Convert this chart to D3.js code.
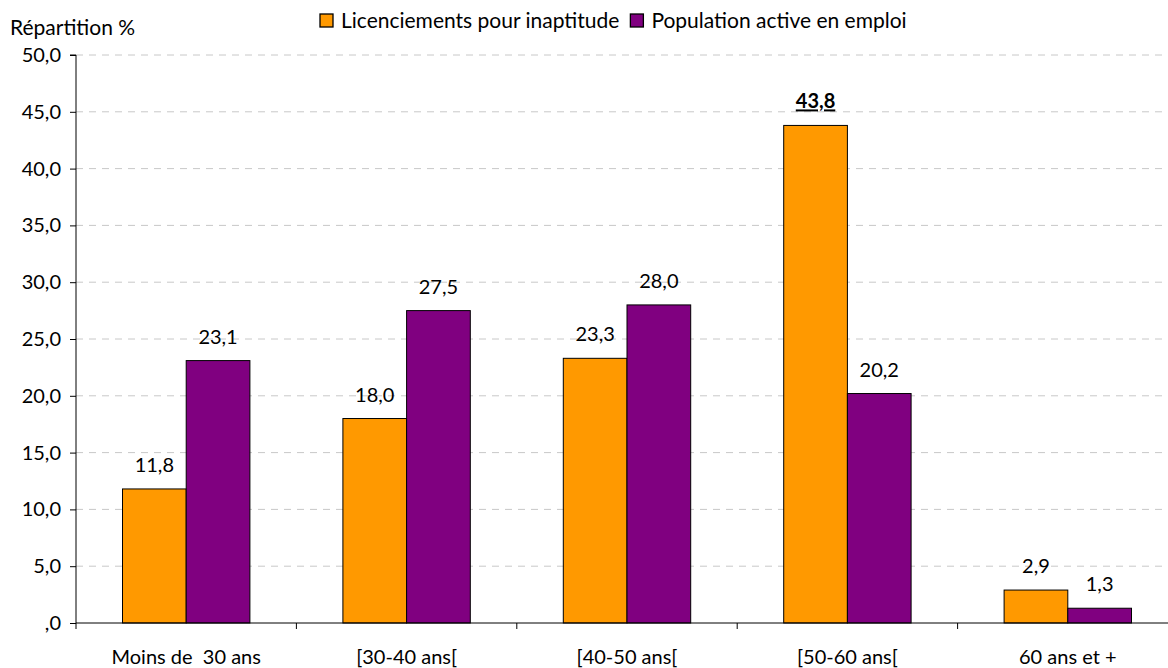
<!DOCTYPE html>
<html>
<head>
<meta charset="utf-8">
<script src="https://cdn.jsdelivr.net/npm/d3@7"></script>
<style>
  html, body { margin: 0; padding: 0; background: #fff; }
  svg text { font-family: Lato, "Open Sans", sans-serif; fill: #000; }
</style>
</head>
<body>
<svg id="chart" width="1168" height="668"></svg>
<script>
// Age groups and the two distributions (%)
const categories = ["Moins de  30 ans", "[30-40 ans[", "[40-50 ans[", "[50-60 ans[", "60 ans et +"];
const seriesNames = ["Licenciements pour inaptitude", "Population active en emploi"];
const licenciements = [11.8, 18.0, 23.3, 43.8, 2.9];
const population = [23.1, 27.5, 28.0, 20.2, 1.3];
const seriesColors = ["#FF9900", "#800080"];
const yTicks = [0, 5, 10, 15, 20, 25, 30, 35, 40, 45, 50];

const svg = d3.select("#chart");
const margin = { left: 76, top: 55 };
const plotW = 1102; // plot area extends beyond the visible frame on the right
const y0 = 623;
const fontMain = 20;
const fontFamily = "Lato, 'Open Sans', sans-serif";

const fmt = v => {
  const s = v.toFixed(1).replace(".", ",");
  return s.startsWith("0,") ? s.slice(1) : s;
};

const x = d3.scaleBand().domain(categories).range([margin.left, margin.left + plotW]).paddingInner(0).paddingOuter(0);
const y = d3.scaleLinear().domain([0, 50]).range([y0, margin.top]);
const xs = d3.scaleBand().domain([0, 1]).range([0, x.bandwidth()]).paddingInner(0).paddingOuter(0.73);

// Gridlines
svg.append("g").selectAll("line").data(yTicks.filter(d => d > 0)).join("line")
  .attr("x1", margin.left).attr("x2", 1168)
  .attr("y1", d => y(d)).attr("y2", d => y(d))
  .attr("stroke", "#c8c8c8").attr("stroke-width", 1).attr("stroke-dasharray", "7,6");

// Bars
const data = categories.map((c, i) => ({ c, vals: [licenciements[i], population[i]] }));
const groups = svg.append("g").selectAll("g").data(data).join("g")
  .attr("transform", d => `translate(${x(d.c)},0)`);
groups.selectAll("rect").data(d => d.vals.map((v, k) => ({ v, k }))).join("rect")
  .attr("x", d => xs(d.k)).attr("width", xs.bandwidth())
  .attr("y", d => y(d.v)).attr("height", d => y0 - y(d.v))
  .attr("fill", d => seriesColors[d.k]).attr("stroke", "#000").attr("stroke-width", 1);

// Value labels
const maxV = d3.max(licenciements.concat(population));
groups.selectAll("text").data(d => d.vals.map((v, k) => ({ v, k }))).join("text")
  .attr("x", d => xs(d.k) + xs.bandwidth() / 2)
  .attr("y", d => y(d.v) - 17)
  .attr("text-anchor", "middle")
  .attr("font-size", fontMain)
  .attr("font-weight", d => d.v === maxV ? "bold" : null)
  .attr("text-decoration", d => d.v === maxV ? "underline" : null)
  .text(d => fmt(d.v));

// Y axis
const yAxis = d3.axisLeft(y).tickValues(yTicks).tickFormat(fmt).tickSize(6).tickPadding(9);
const gy = svg.append("g").attr("transform", `translate(${margin.left},0)`).call(yAxis);
gy.select(".domain").attr("stroke", "#000").attr("d", `M-6,${y(50)}H0V${y0}`);
gy.selectAll(".tick line").attr("stroke", "#000");
gy.selectAll(".tick text").attr("font-size", fontMain).attr("font-family", fontFamily).attr("fill", "#000");

// X axis
const xAxis = d3.axisBottom(x).tickSize(0).tickPadding(27);
const gx = svg.append("g").attr("transform", `translate(0,${y0})`).call(xAxis);
gx.select(".domain").attr("stroke", "#000").attr("d", `M${margin.left},0H1168`);
gx.selectAll(".tick text").attr("font-size", fontMain).attr("font-family", fontFamily).attr("fill", "#000").style("white-space", "pre");
// Category separator ticks
gx.append("g").selectAll("line").data(categories).join("line")
  .attr("x1", d => x(d)).attr("x2", d => x(d)).attr("y1", 0).attr("y2", 6).attr("stroke", "#000");

// Axis title
svg.append("text").attr("x", 10).attr("y", 35).attr("font-size", 21).text("Répartition %");

// Legend
const legend = svg.append("g");
let lx = 320;
seriesNames.forEach((name, i) => {
  legend.append("rect").attr("x", lx).attr("y", 14).attr("width", 13).attr("height", 13)
    .attr("fill", seriesColors[i]).attr("stroke", "#000").attr("stroke-width", 1.3);
  const t = legend.append("text").attr("x", lx + 21).attr("y", 28).attr("font-size", 21).text(name);
  lx += 21 + t.node().getComputedTextLength() + 11;
});
</script>
</body>
</html>
